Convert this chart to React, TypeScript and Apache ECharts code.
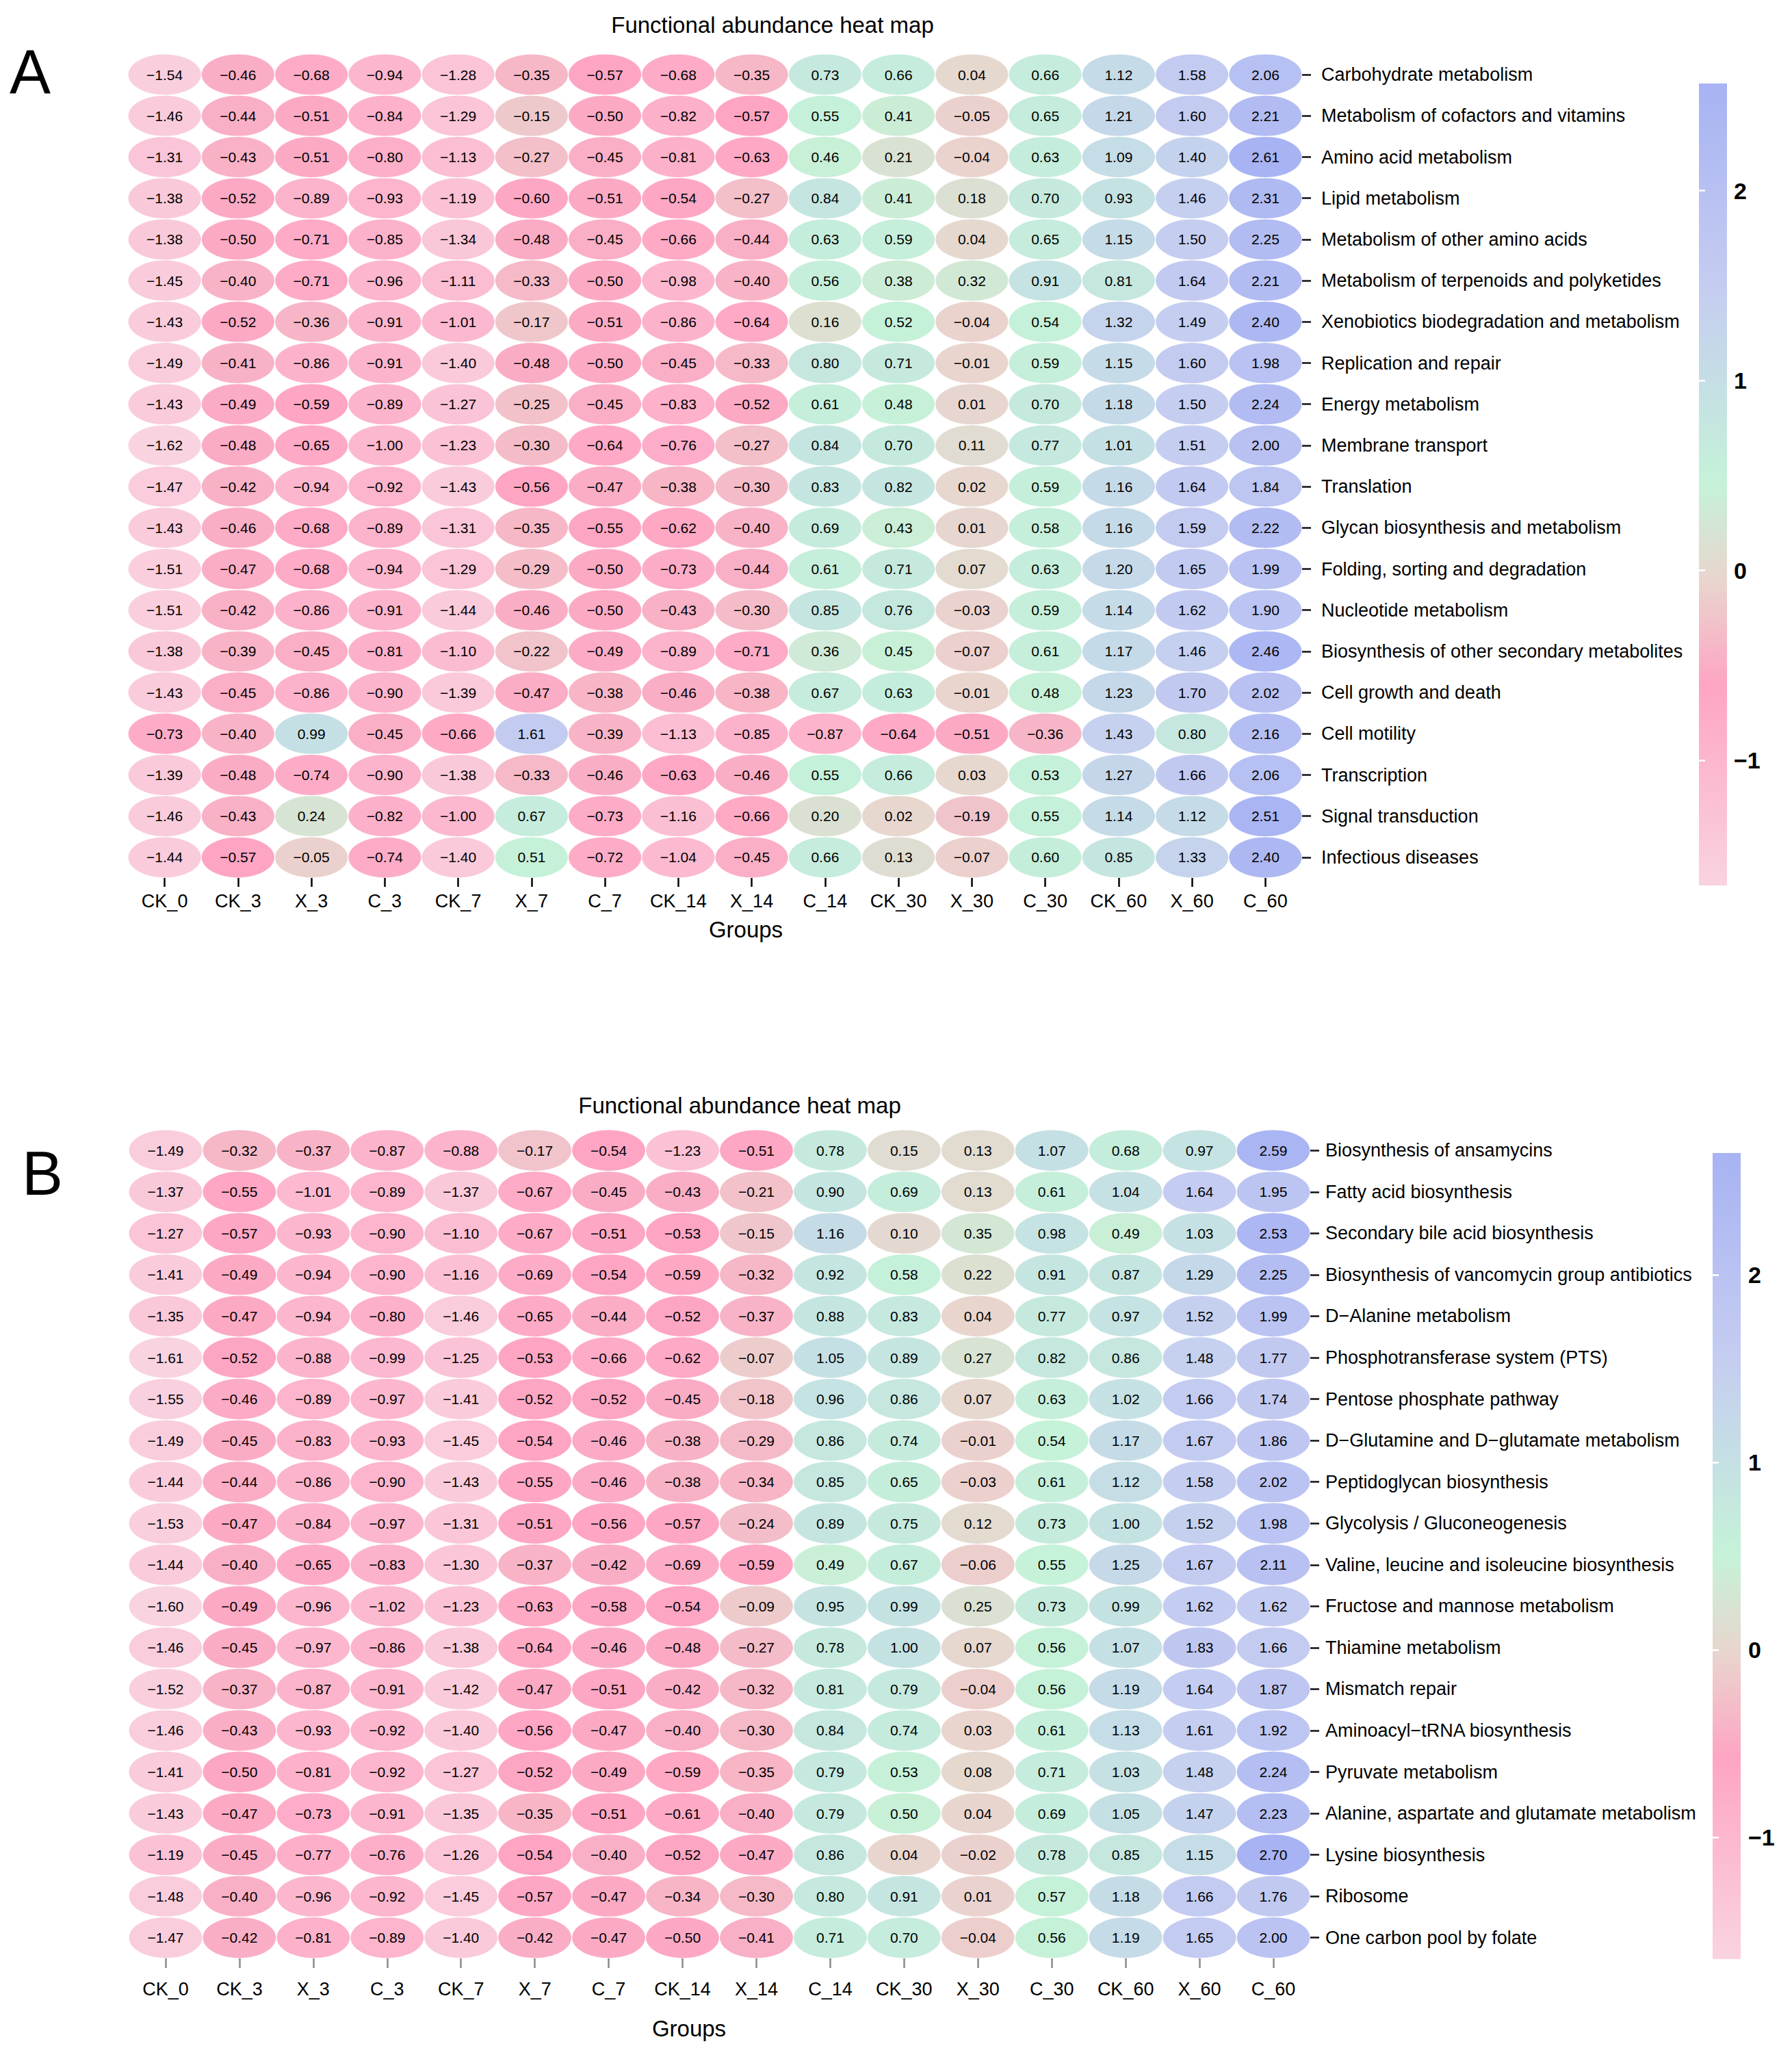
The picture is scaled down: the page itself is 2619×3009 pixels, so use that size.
import React, { useEffect, useRef } from 'react';
import * as echarts from 'echarts';

const groups = ['CK_0', 'CK_3', 'X_3', 'C_3', 'CK_7', 'X_7', 'C_7', 'CK_14', 'X_14', 'C_14', 'CK_30', 'X_30', 'C_30', 'CK_60', 'X_60', 'C_60'];

const pathwaysA = [
  'Carbohydrate metabolism',
  'Metabolism of cofactors and vitamins',
  'Amino acid metabolism',
  'Lipid metabolism',
  'Metabolism of other amino acids',
  'Metabolism of terpenoids and polyketides',
  'Xenobiotics biodegradation and metabolism',
  'Replication and repair',
  'Energy metabolism',
  'Membrane transport',
  'Translation',
  'Glycan biosynthesis and metabolism',
  'Folding, sorting and degradation',
  'Nucleotide metabolism',
  'Biosynthesis of other secondary metabolites',
  'Cell growth and death',
  'Cell motility',
  'Transcription',
  'Signal transduction',
  'Infectious diseases',
];

const valuesA = [
  [-1.54, -0.46, -0.68, -0.94, -1.28, -0.35, -0.57, -0.68, -0.35, 0.73, 0.66, 0.04, 0.66, 1.12, 1.58, 2.06],
  [-1.46, -0.44, -0.51, -0.84, -1.29, -0.15, -0.50, -0.82, -0.57, 0.55, 0.41, -0.05, 0.65, 1.21, 1.60, 2.21],
  [-1.31, -0.43, -0.51, -0.80, -1.13, -0.27, -0.45, -0.81, -0.63, 0.46, 0.21, -0.04, 0.63, 1.09, 1.40, 2.61],
  [-1.38, -0.52, -0.89, -0.93, -1.19, -0.60, -0.51, -0.54, -0.27, 0.84, 0.41, 0.18, 0.70, 0.93, 1.46, 2.31],
  [-1.38, -0.50, -0.71, -0.85, -1.34, -0.48, -0.45, -0.66, -0.44, 0.63, 0.59, 0.04, 0.65, 1.15, 1.50, 2.25],
  [-1.45, -0.40, -0.71, -0.96, -1.11, -0.33, -0.50, -0.98, -0.40, 0.56, 0.38, 0.32, 0.91, 0.81, 1.64, 2.21],
  [-1.43, -0.52, -0.36, -0.91, -1.01, -0.17, -0.51, -0.86, -0.64, 0.16, 0.52, -0.04, 0.54, 1.32, 1.49, 2.40],
  [-1.49, -0.41, -0.86, -0.91, -1.40, -0.48, -0.50, -0.45, -0.33, 0.80, 0.71, -0.01, 0.59, 1.15, 1.60, 1.98],
  [-1.43, -0.49, -0.59, -0.89, -1.27, -0.25, -0.45, -0.83, -0.52, 0.61, 0.48, 0.01, 0.70, 1.18, 1.50, 2.24],
  [-1.62, -0.48, -0.65, -1.00, -1.23, -0.30, -0.64, -0.76, -0.27, 0.84, 0.70, 0.11, 0.77, 1.01, 1.51, 2.00],
  [-1.47, -0.42, -0.94, -0.92, -1.43, -0.56, -0.47, -0.38, -0.30, 0.83, 0.82, 0.02, 0.59, 1.16, 1.64, 1.84],
  [-1.43, -0.46, -0.68, -0.89, -1.31, -0.35, -0.55, -0.62, -0.40, 0.69, 0.43, 0.01, 0.58, 1.16, 1.59, 2.22],
  [-1.51, -0.47, -0.68, -0.94, -1.29, -0.29, -0.50, -0.73, -0.44, 0.61, 0.71, 0.07, 0.63, 1.20, 1.65, 1.99],
  [-1.51, -0.42, -0.86, -0.91, -1.44, -0.46, -0.50, -0.43, -0.30, 0.85, 0.76, -0.03, 0.59, 1.14, 1.62, 1.90],
  [-1.38, -0.39, -0.45, -0.81, -1.10, -0.22, -0.49, -0.89, -0.71, 0.36, 0.45, -0.07, 0.61, 1.17, 1.46, 2.46],
  [-1.43, -0.45, -0.86, -0.90, -1.39, -0.47, -0.38, -0.46, -0.38, 0.67, 0.63, -0.01, 0.48, 1.23, 1.70, 2.02],
  [-0.73, -0.40, 0.99, -0.45, -0.66, 1.61, -0.39, -1.13, -0.85, -0.87, -0.64, -0.51, -0.36, 1.43, 0.80, 2.16],
  [-1.39, -0.48, -0.74, -0.90, -1.38, -0.33, -0.46, -0.63, -0.46, 0.55, 0.66, 0.03, 0.53, 1.27, 1.66, 2.06],
  [-1.46, -0.43, 0.24, -0.82, -1.00, 0.67, -0.73, -1.16, -0.66, 0.20, 0.02, -0.19, 0.55, 1.14, 1.12, 2.51],
  [-1.44, -0.57, -0.05, -0.74, -1.40, 0.51, -0.72, -1.04, -0.45, 0.66, 0.13, -0.07, 0.60, 0.85, 1.33, 2.40],
];

const pathwaysB = [
  'Biosynthesis of ansamycins',
  'Fatty acid biosynthesis',
  'Secondary bile acid biosynthesis',
  'Biosynthesis of vancomycin group antibiotics',
  'D\u2212Alanine metabolism',
  'Phosphotransferase system (PTS)',
  'Pentose phosphate pathway',
  'D\u2212Glutamine and D\u2212glutamate metabolism',
  'Peptidoglycan biosynthesis',
  'Glycolysis / Gluconeogenesis',
  'Valine, leucine and isoleucine biosynthesis',
  'Fructose and mannose metabolism',
  'Thiamine metabolism',
  'Mismatch repair',
  'Aminoacyl\u2212tRNA biosynthesis',
  'Pyruvate metabolism',
  'Alanine, aspartate and glutamate metabolism',
  'Lysine biosynthesis',
  'Ribosome',
  'One carbon pool by folate',
];

const valuesB = [
  [-1.49, -0.32, -0.37, -0.87, -0.88, -0.17, -0.54, -1.23, -0.51, 0.78, 0.15, 0.13, 1.07, 0.68, 0.97, 2.59],
  [-1.37, -0.55, -1.01, -0.89, -1.37, -0.67, -0.45, -0.43, -0.21, 0.90, 0.69, 0.13, 0.61, 1.04, 1.64, 1.95],
  [-1.27, -0.57, -0.93, -0.90, -1.10, -0.67, -0.51, -0.53, -0.15, 1.16, 0.10, 0.35, 0.98, 0.49, 1.03, 2.53],
  [-1.41, -0.49, -0.94, -0.90, -1.16, -0.69, -0.54, -0.59, -0.32, 0.92, 0.58, 0.22, 0.91, 0.87, 1.29, 2.25],
  [-1.35, -0.47, -0.94, -0.80, -1.46, -0.65, -0.44, -0.52, -0.37, 0.88, 0.83, 0.04, 0.77, 0.97, 1.52, 1.99],
  [-1.61, -0.52, -0.88, -0.99, -1.25, -0.53, -0.66, -0.62, -0.07, 1.05, 0.89, 0.27, 0.82, 0.86, 1.48, 1.77],
  [-1.55, -0.46, -0.89, -0.97, -1.41, -0.52, -0.52, -0.45, -0.18, 0.96, 0.86, 0.07, 0.63, 1.02, 1.66, 1.74],
  [-1.49, -0.45, -0.83, -0.93, -1.45, -0.54, -0.46, -0.38, -0.29, 0.86, 0.74, -0.01, 0.54, 1.17, 1.67, 1.86],
  [-1.44, -0.44, -0.86, -0.90, -1.43, -0.55, -0.46, -0.38, -0.34, 0.85, 0.65, -0.03, 0.61, 1.12, 1.58, 2.02],
  [-1.53, -0.47, -0.84, -0.97, -1.31, -0.51, -0.56, -0.57, -0.24, 0.89, 0.75, 0.12, 0.73, 1.00, 1.52, 1.98],
  [-1.44, -0.40, -0.65, -0.83, -1.30, -0.37, -0.42, -0.69, -0.59, 0.49, 0.67, -0.06, 0.55, 1.25, 1.67, 2.11],
  [-1.60, -0.49, -0.96, -1.02, -1.23, -0.63, -0.58, -0.54, -0.09, 0.95, 0.99, 0.25, 0.73, 0.99, 1.62, 1.62],
  [-1.46, -0.45, -0.97, -0.86, -1.38, -0.64, -0.46, -0.48, -0.27, 0.78, 1.00, 0.07, 0.56, 1.07, 1.83, 1.66],
  [-1.52, -0.37, -0.87, -0.91, -1.42, -0.47, -0.51, -0.42, -0.32, 0.81, 0.79, -0.04, 0.56, 1.19, 1.64, 1.87],
  [-1.46, -0.43, -0.93, -0.92, -1.40, -0.56, -0.47, -0.40, -0.30, 0.84, 0.74, 0.03, 0.61, 1.13, 1.61, 1.92],
  [-1.41, -0.50, -0.81, -0.92, -1.27, -0.52, -0.49, -0.59, -0.35, 0.79, 0.53, 0.08, 0.71, 1.03, 1.48, 2.24],
  [-1.43, -0.47, -0.73, -0.91, -1.35, -0.35, -0.51, -0.61, -0.40, 0.79, 0.50, 0.04, 0.69, 1.05, 1.47, 2.23],
  [-1.19, -0.45, -0.77, -0.76, -1.26, -0.54, -0.40, -0.52, -0.47, 0.86, 0.04, -0.02, 0.78, 0.85, 1.15, 2.70],
  [-1.48, -0.40, -0.96, -0.92, -1.45, -0.57, -0.47, -0.34, -0.30, 0.80, 0.91, 0.01, 0.57, 1.18, 1.66, 1.76],
  [-1.47, -0.42, -0.81, -0.89, -1.40, -0.42, -0.47, -0.50, -0.41, 0.71, 0.70, -0.04, 0.56, 1.19, 1.65, 2.00],
];

// colour-bar scale ends and tick values, as read from the legends
const colorbarLimitsA = [-1.66, 2.565];
const colorbarLimitsB = [-1.65, 2.65];
const colorbarTicks = [-1, 0, 1, 2];
const titleText = 'Functional abundance heat map';
const xAxisTitle = 'Groups';
const panelLetters = ['A', 'B'];

// palette (normalized position -> colour)
const paletteStops: [number, string][] = [
  [0, '#F9D3E0'],
  [0.25, '#FEA5C3'],
  [0.38, '#E9D5CE'],
  [0.5, '#C5F2D8'],
  [0.75, '#C5CCF1'],
  [1, '#A7B3F3'],
];

const FONT = '"Liberation Sans", Arial, Helvetica, sans-serif';

function hexToRgb(h: string) {
  const n = parseInt(h.slice(1), 16);
  return [(n >> 16) & 255, (n >> 8) & 255, n & 255];
}
function paletteAt(t: number) {
  for (let i = 0; i < paletteStops.length - 1; i++) {
    const [o1, c1] = paletteStops[i];
    const [o2, c2] = paletteStops[i + 1];
    if (t >= o1 && t <= o2) {
      const k = (t - o1) / (o2 - o1);
      const a = hexToRgb(c1);
      const b = hexToRgb(c2);
      const r = a.map((v, j) => Math.round(v + (b[j] - v) * k));
      return `rgb(${r[0]},${r[1]},${r[2]})`;
    }
  }
  return paletteStops[paletteStops.length - 1][1];
}
const paletteSamples = Array.from({ length: 101 }, (_, i) => paletteAt(i / 100));

function cellData(values: number[][]) {
  const out: number[][] = [];
  values.forEach((row, r) => row.forEach((v, c) => out.push([c, r, v])));
  return out;
}
function extentOf(values: number[][]) {
  const flat = values.flat();
  return [Math.min(...flat), Math.max(...flat)];
}
const fmtCell = (v: number) => (v < 0 ? '\u2212' : '') + Math.abs(v).toFixed(2);
const fmtTick = (v: number) => (v < 0 ? '\u2212' + Math.abs(v) : String(v));

function heatRender(params: any, api: any) {
  const x = api.value(0);
  const y = api.value(1);
  const v = api.value(2);
  const c = api.coord([x, y]);
  const s = api.size([1, 1]);
  return {
    type: 'group',
    children: [
      {
        type: 'ellipse',
        shape: { cx: c[0], cy: c[1], rx: s[0] * 0.495, ry: s[1] * 0.49 },
        style: { fill: api.visual('color') },
      },
      {
        type: 'text',
        x: c[0],
        y: c[1],
        style: {
          text: fmtCell(v),
          fill: '#000',
          fontSize: 21,
          fontFamily: FONT,
          align: 'center',
          verticalAlign: 'middle',
        },
      },
    ],
  };
}

function barRender(params: any, api: any) {
  const p1 = api.coord([api.value(0), api.value(3)]);
  const p2 = api.coord([api.value(1), api.value(2)]);
  return {
    type: 'rect',
    shape: { x: p1[0], y: p1[1], width: p2[0] - p1[0], height: p2[1] - p1[1] },
    style: {
      fill: new echarts.graphic.LinearGradient(
        0, 1, 0, 0,
        paletteStops.map(([o, c]) => ({ offset: o, color: c }))
      ),
    },
  };
}

export default function App() {
  const ref = useRef<HTMLDivElement>(null);

  useEffect(() => {
    if (!ref.current) return;
    const chart = echarts.init(ref.current, undefined, { renderer: 'svg' });
    const [minA, maxA] = extentOf(valuesA);
    const [minB, maxB] = extentOf(valuesB);

    const heatX = (gridIndex: number, tickColor: string, margin: number, len: number) => ({
      gridIndex,
      type: 'category',
      data: groups,
      axisLine: { show: false },
      axisTick: { show: true, alignWithLabel: true, length: len, lineStyle: { color: tickColor, width: 2.5 } },
      axisLabel: { show: true, interval: 0, fontSize: 27, color: '#000', margin, fontFamily: FONT },
      splitLine: { show: false },
    });
    const heatY = (gridIndex: number, data: string[], margin: number, padding: number[]) => ({
      gridIndex,
      type: 'category',
      data,
      inverse: true,
      position: 'right',
      axisLine: { show: false },
      axisTick: { show: true, alignWithLabel: true, length: 13, lineStyle: { color: '#111', width: 2.5 } },
      axisLabel: { show: true, interval: 0, fontSize: 27, color: '#000', margin, padding, fontFamily: FONT },
      splitLine: { show: false },
    });
    const barY = (gridIndex: number, lim: number[], position: string, labels: boolean, margin: number) => ({
      gridIndex,
      type: 'value',
      min: lim[0],
      max: lim[1],
      position,
      z: 5,
      axisLine: { show: false },
      splitLine: { show: false },
      axisTick: {
        show: true,
        inside: true,
        length: 9,
        customValues: colorbarTicks,
        lineStyle: { color: '#ffffff', width: 2.5 },
      },
      axisLabel: {
        show: labels,
        customValues: colorbarTicks,
        fontSize: 34,
        fontWeight: 'bold',
        color: '#000',
        margin,
        fontFamily: FONT,
        formatter: fmtTick,
      },
    });

    const textEl = (x: number, y: number, text: string, fontSize: number) => ({
      type: 'text',
      x,
      y,
      style: {
        text,
        fontSize,
        fontFamily: FONT,
        fill: '#000',
        align: 'center',
        verticalAlign: 'middle',
      },
    });

    chart.setOption({
      animation: false,
      backgroundColor: '#ffffff',
      textStyle: { fontFamily: FONT },
      grid: [
        { left: 187, top: 79, width: 1716, height: 1204 },
        { left: 188, top: 1651, width: 1727, height: 1211 },
        { left: 2483, top: 122, width: 41, height: 1172 },
        { left: 2503, top: 1685, width: 41, height: 1178 },
      ],
      xAxis: [
        heatX(0, '#000', 20, 13),
        heatX(1, '#8a8a8a', 31, 14),
        { gridIndex: 2, type: 'value', min: 0, max: 1, show: false },
        { gridIndex: 3, type: 'value', min: 0, max: 1, show: false },
      ],
      yAxis: [
        heatY(0, pathwaysA, 28, [0, 0, 18, 0]),
        heatY(1, pathwaysB, 22, [0, 0, 0, 0]),
        barY(2, colorbarLimitsA, 'right', true, 10),
        barY(2, colorbarLimitsA, 'left', false, 8),
        barY(3, colorbarLimitsB, 'right', true, 11),
        barY(3, colorbarLimitsB, 'left', false, 8),
      ],
      visualMap: [
        {
          type: 'continuous',
          show: false,
          seriesIndex: 0,
          dimension: 2,
          min: minA,
          max: maxA,
          inRange: { color: paletteSamples },
        },
        {
          type: 'continuous',
          show: false,
          seriesIndex: 1,
          dimension: 2,
          min: minB,
          max: maxB,
          inRange: { color: paletteSamples },
        },
      ],
      series: [
        {
          type: 'custom',
          name: 'A',
          xAxisIndex: 0,
          yAxisIndex: 0,
          data: cellData(valuesA),
          encode: { x: 0, y: 1 },
          renderItem: heatRender,
        },
        {
          type: 'custom',
          name: 'B',
          xAxisIndex: 1,
          yAxisIndex: 1,
          data: cellData(valuesB),
          encode: { x: 0, y: 1 },
          renderItem: heatRender,
        },
        {
          type: 'custom',
          name: 'colorbarA',
          xAxisIndex: 2,
          yAxisIndex: 2,
          z: 1,
          data: [[0, 1, colorbarLimitsA[0], colorbarLimitsA[1]]],
          encode: { x: [0, 1], y: [2, 3] },
          renderItem: barRender,
        },
        {
          type: 'custom',
          name: 'colorbarB',
          xAxisIndex: 3,
          yAxisIndex: 4,
          z: 1,
          data: [[0, 1, colorbarLimitsB[0], colorbarLimitsB[1]]],
          encode: { x: [0, 1], y: [2, 3] },
          renderItem: barRender,
        },
      ],
      graphic: [
        textEl(1129, 36, titleText, 33),
        textEl(1081, 1615, titleText, 33),
        textEl(1090, 1358, xAxisTitle, 33),
        textEl(1007, 2964, xAxisTitle, 33),
        textEl(44, 105, panelLetters[0], 90),
        textEl(62, 1715, panelLetters[1], 90),
      ],
    });

    return () => chart.dispose();
  }, []);

  return (
    <div
      ref={ref}
      style={{ position: 'absolute', left: 0, top: 0, width: 2619, height: 3009, background: '#fff' }}
    />
  );
}
